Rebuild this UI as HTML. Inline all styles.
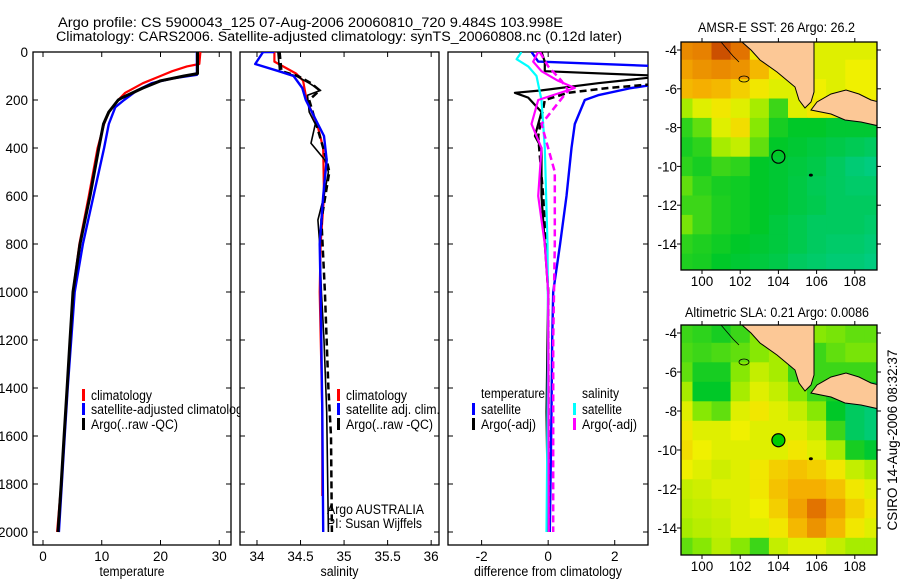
<!DOCTYPE html>
<html><head><meta charset="utf-8"><style>
html,body{margin:0;padding:0;background:#fff;}
svg{display:block;font-family:"Liberation Sans",sans-serif;}
text{font-size:13.5px;fill:#000;}
</style></head><body>
<svg id="fig" width="900" height="580" viewBox="0 0 900 580" xmlns="http://www.w3.org/2000/svg">
<text x="58" y="27" textLength="505" lengthAdjust="spacingAndGlyphs">Argo profile: CS 5900043_125 07-Aug-2006 20060810_720 9.484S 103.998E</text>
<text x="56" y="41" textLength="566" lengthAdjust="spacingAndGlyphs">Climatology: CARS2006. Satellite-adjusted climatology: synTS_20060808.nc (0.12d later)</text>
<text x="698" y="32" textLength="157" lengthAdjust="spacingAndGlyphs">AMSR-E SST: 26 Argo: 26.2</text>
<text x="685" y="317" textLength="184" lengthAdjust="spacingAndGlyphs">Altimetric SLA: 0.21 Argo: 0.0086</text>
<text transform="translate(897,440) rotate(-90)" text-anchor="middle">CSIRO 14-Aug-2006 08:32:37</text>
<g id="g-p1"></g>
<g id="g-p2"></g>
<g id="g-p3"></g>
<g id="g-m1"></g>
<g id="g-m2"></g>
</svg>
<script>
// ---- profile data: [depth, value] ----
const tempClim = [[0,26.8],[50,26.6],[60,24.5],[80,22],[100,20],[130,17],[170,14],[200,12.8],[250,11.2],[300,10.4],[400,9.3],[600,7.8],[800,6.2],[1000,5.1],[1200,4.6],[1400,4.1],[1600,3.6],[1800,3.1],[2000,2.4]];
const tempSat = [[0,26.2],[95,26.2],[110,22],[130,18.5],[160,16],[200,13.8],[230,12.3],[300,11.2],[400,10.4],[600,8.6],[800,6.8],[1000,5.4],[1200,4.8],[1400,4.2],[1600,3.7],[1800,3.2],[2000,2.7]];
const tempArgo = [[0,26.3],[90,26.3],[100,24],[120,20],[150,17],[190,13.5],[200,12.8],[250,11.2],[300,10.3],[400,9.5],[600,8.0],[800,6.3],[1000,5.1],[1200,4.6],[1400,4.1],[1600,3.6],[1800,3.1],[2000,2.55]];
const salClim = [[0,34.2],[40,34.2],[60,34.3],[90,34.45],[120,34.53],[200,34.57],[300,34.69],[400,34.76],[600,34.77],[800,34.73],[1000,34.72],[1500,34.75],[1850,34.75]];
const salSat = [[0,34.2],[0,34.07],[50,33.98],[80,34.25],[100,34.42],[150,34.52],[200,34.56],[300,34.7],[350,34.77],[450,34.8],[600,34.76],[800,34.72],[1000,34.73],[1500,34.75],[2000,34.76]];
const salArgo = [[0,34.24],[80,34.26],[100,34.45],[130,34.6],[160,34.73],[180,34.58],[250,34.6],[300,34.67],[380,34.62],[450,34.78],[500,34.82],[600,34.77],[700,34.7],[800,34.72],[1000,34.74],[1200,34.77],[1500,34.8],[2000,34.82]];
const salArgoAdj = [[0,34.26],[80,34.28],[100,34.47],[130,34.62],[160,34.72],[200,34.6],[300,34.68],[450,34.8],[500,34.83],[700,34.74],[1000,34.78],[1400,34.82],[1600,34.85],[2000,34.86]];
const dTempSat = [[0,-0.5],[40,-0.3],[60,3.5],[130,3.5],[150,2.5],[180,1.5],[200,1.1],[300,0.8],[400,0.7],[600,0.55],[800,0.36],[1000,0.15],[1200,0.12],[1500,0.1],[2000,0.05]];
const dTempArgo = [[0,-0.2],[40,-0.1],[80,-0.1],[100,3.5],[130,1.5],[160,-0.2],[170,-1.0],[190,-0.6],[250,-0.2],[350,-0.4],[400,-0.2],[600,-0.2],[800,-0.1],[1000,0],[1500,-0.05],[2000,0]];
const dTempArgoAdj = [[90,3.5],[130,3.5],[150,1.8],[170,0.6],[200,-0.1],[350,-0.3],[600,-0.15],[1000,0],[2000,0.02]];
const dSalSat = [[0,-0.8],[30,-0.95],[60,-0.6],[100,-0.35],[200,-0.2],[400,-0.1],[800,-0.02],[1200,0],[2000,-0.05]];
const dSalArgo = [[0,-0.3],[40,-0.45],[80,-0.2],[120,0.3],[150,0.8],[200,-0.3],[300,-0.5],[400,-0.2],[600,-0.3],[800,-0.1],[1000,0],[2000,0.02]];
const dSalArgoAdj = [[0,-0.25],[60,0],[120,0.4],[160,0.6],[300,-0.2],[500,0.2],[800,0.2],[1200,0.15],[1600,0.15],[2000,0.15]];
const depthTicks = [0,200,400,600,800,1000,1200,1400,1600,1800,2000];
const tempTicks = [0,10,20,30];
const salTicks = [34,34.5,35,35.5,36];
const diffTicks = [-2,0,2];
// ---- map data (1-degree cells, rows from -4 to -15, cols lon 99..108) ----
const mapLons = [99,100,101,102,103,104,105,106,107,108,109];
const mapLats = [-4,-5,-6,-7,-8,-9,-10,-11,-12,-13,-14,-15];
const sstGrid = [
[.80,.82,.92,.85,.60,.60,.55,.55,.55,.55,.55],
[.75,.78,.80,.78,.70,.60,.55,.55,.55,.58,.58],
[.70,.72,.70,.65,.60,.55,.55,.58,.55,.58,.58],
[.45,.55,.60,.55,.45,.30,.55,.60,.60,.60,.60],
[.28,.35,.55,.62,.40,.25,.22,.22,.20,.20,.20],
[.25,.28,.45,.50,.35,.22,.20,.18,.16,.14,.12],
[.28,.25,.30,.28,.22,.20,.18,.16,.12,.08,.06],
[.35,.28,.25,.24,.22,.20,.17,.14,.12,.10,.10],
[.30,.30,.26,.24,.22,.20,.17,.15,.12,.12,.12],
[.38,.30,.26,.24,.22,.18,.15,.12,.12,.12,.10],
[.28,.26,.24,.22,.20,.18,.15,.12,.10,.10,.08],
[.26,.25,.22,.20,.18,.16,.12,.10,.08,.08,.06]];
const slaGrid = [
[.30,.28,.25,.30,.40,.40,.40,.40,.38,.35,.35],
[.32,.30,.32,.35,.40,.45,.35,.30,.35,.38,.38],
[.35,.25,.25,.40,.50,.45,.30,.30,.30,.30,.30],
[.45,.22,.22,.45,.55,.50,.40,.30,.25,.25,.20],
[.55,.40,.35,.55,.60,.55,.50,.40,.22,.12,.08],
[.60,.55,.55,.58,.55,.55,.55,.50,.30,.12,.08],
[.62,.58,.55,.55,.55,.55,.60,.55,.45,.25,.20],
[.58,.55,.52,.55,.60,.65,.68,.65,.60,.50,.45],
[.50,.52,.55,.55,.60,.68,.72,.72,.68,.60,.55],
[.48,.50,.52,.55,.58,.65,.75,.85,.75,.65,.60],
[.45,.48,.50,.55,.55,.60,.70,.78,.70,.60,.55],
[.35,.40,.48,.40,.30,.50,.55,.55,.50,.45,.45]];
const latTicks = [-4,-6,-8,-10,-12,-14];
const lonTicks = [100,102,104,106,108];
const floatPos = [104.0,-9.5];

const NS="http://www.w3.org/2000/svg";
function mk(parent,tag,attrs){const e=document.createElementNS(NS,tag);for(const k in attrs)e.setAttribute(k,attrs[k]);parent.appendChild(e);return e;}
const Y0=52, YS=0.24, PB=545;
const yD = d => Y0 + d*YS;

function panel(gid,x0,x1,xv0,xv1,ticks,label,labW){
  const g=document.getElementById(gid);
  const xs = v => x0 + (v-xv0)/(xv1-xv0)*(x1-x0);
  const bg=mk(g,'rect',{x:x0,y:Y0,width:x1-x0,height:PB-Y0,fill:'#fff',stroke:'none'});
  const r=mk(g,'rect',{x:x0,y:Y0,width:x1-x0,height:PB-Y0,fill:'none',stroke:'#000','stroke-width':1.3});
  
  
  ticks.forEach(t=>{
    const X=xs(t);
    mk(g,'line',{x1:X,x2:X,y1:PB,y2:PB-5,stroke:'#000'});
    mk(g,'line',{x1:X,x2:X,y1:Y0,y2:Y0+5,stroke:'#000'});
    const tx=mk(g,'text',{x:X,y:561,'text-anchor':'middle'});
    tx.textContent=t;
    
    
  });
  depthTicks.forEach(d=>{
    const Y=yD(d);
    mk(g,'line',{x1:x0,x2:x0+5,y1:Y,y2:Y,stroke:'#000'});
    mk(g,'line',{x1:x1,x2:x1-5,y1:Y,y2:Y,stroke:'#000'});
    if(gid==='g-p1'){
      const tx=mk(g,'text',{x:28,y:Y+5,'text-anchor':'end'});
      tx.textContent=d;
      
      
    }
  });
  const cx=(x0+x1)/2;
  const lb=mk(g,'text',{x:cx-labW/2,y:576,textLength:labW,lengthAdjust:'spacingAndGlyphs'});
  lb.textContent=label;
  
  
  const cp=mk(g,'clipPath',{id:'c'+gid});
  mk(cp,'rect',{x:x0,y:Y0,width:x1-x0,height:PB-Y0});
  return {g,xs,clip:'url(#c'+gid+')'};
}
function series(P,data,color,w,dash,name){
  const pts=data.map(p=>P.xs(p[1]).toFixed(1)+','+yD(p[0]).toFixed(1)).join(' ');
  const a={points:pts,fill:'none',stroke:color,'stroke-width':w,'clip-path':P.clip,'stroke-linejoin':'round'};
  if(dash)a['stroke-dasharray']=dash;
  const e=mk(P.g,'polyline',a);
  
  
}
function legend(g,x,y,color,s,w,name){
  mk(g,'rect',{x:x-1,y:y-9,width:3,height:12,fill:color});
  const t=mk(g,'text',{x:x+8,y:y+2,textLength:w,lengthAdjust:'spacingAndGlyphs'});
  t.textContent=s;
  
  
}
function txt(g,x,y,s,w,name){const t=mk(g,'text',{x:x,y:y,textLength:w,lengthAdjust:'spacingAndGlyphs'});t.textContent=s;
  
  }

const P1=panel('g-p1',33,231,-1.7,32.0,tempTicks,'temperature',65);
series(P1,tempClim,'#f00',2.2,null,'temp-climatology-line');
series(P1,tempSat,'#00f',2.4,null,'temp-satellite-line');
series(P1,tempArgo,'#000',3,null,'temp-argo-line');
legend(P1.g,83,398,'#f00','climatology',61,'legend-climatology');
legend(P1.g,83,412,'#00f','satellite-adjusted climatology',158,'legend-satellite');
legend(P1.g,83,427,'#000','Argo(..raw -QC)',87,'legend-argo');

const P2=panel('g-p2',240,439,33.805,36.09,salTicks,'salinity',38);
series(P2,salClim,'#f00',2.2,null,'sal-climatology-line');
series(P2,salArgoAdj,'#000',2.5,'7,4','sal-argo-adj-line');
series(P2,salArgo,'#000',1.6,null,'sal-argo-line');
series(P2,salSat,'#00f',2.4,null,'sal-satellite-line');
legend(P2.g,338,398,'#f00','climatology',61,'legend-climatology');
legend(P2.g,338,412,'#00f','satellite adj. clim.',94,'legend-satellite');
legend(P2.g,338,427,'#000','Argo(..raw -QC)',87,'legend-argo');
txt(P2.g,327,514,'Argo AUSTRALIA',97,'argo-agency-note');
txt(P2.g,327,528,'PI: Susan Wijffels',95,'pi-note');

const P3=panel('g-p3',448,648,-3.01,3.0,diffTicks,'difference from climatology',148);
series(P3,dTempSat,'#00f',2.4,null,'diff-temp-satellite-line');
series(P3,dTempArgoAdj,'#000',2.5,'7,4','diff-temp-argo-adj-line');
series(P3,dTempArgo,'#000',2.2,null,'diff-temp-argo-line');
series(P3,dSalSat,'#0ff',2.2,null,'diff-sal-satellite-line');
series(P3,dSalArgoAdj,'#f0f',2.5,'7,4','diff-sal-argo-adj-line');
series(P3,dSalArgo,'#f0f',2.2,null,'diff-sal-argo-line');
txt(P3.g,481,398,'temperature',64,'legend-temperature-header');
legend(P3.g,473,412,'#00f','satellite',40,'legend-temp-satellite');
legend(P3.g,473,427,'#000','Argo(-adj)',55,'legend-temp-argo');
txt(P3.g,582,398,'salinity',37,'legend-salinity-header');
legend(P3.g,574,412,'#0ff','satellite',40,'legend-sal-satellite');
legend(P3.g,574,427,'#f0f','Argo(-adj)',55,'legend-sal-argo');

// colormap
const cstops=[[0,[0,205,160]],[0.22,[0,200,40]],[0.42,[150,235,0]],[0.58,[240,240,0]],[0.72,[245,175,0]],[0.86,[225,110,0]],[1,[175,40,0]]];
function cmap(v){for(let i=1;i<cstops.length;i++){if(v<=cstops[i][0]){const a=cstops[i-1],b=cstops[i],t=(v-a[0])/(b[0]-a[0]);return 'rgb('+a[1].map((c,k)=>Math.round(c+(b[1][k]-c)*t)).join(',')+')';}}return 'rgb(175,40,0)';}

function map(gid,top,bot,latA,latB,grid,filled){
  const g=document.getElementById(gid);
  const L=681,R=877;
  const xs=lon=>702+(lon-100)*19.1;
  const ys=lat=>latA+(-4-lat)*(latB-latA)/10;
  const cp=mk(g,'clipPath',{id:'c'+gid});
  mk(cp,'rect',{x:L,y:top,width:R-L,height:bot-top});
  const cg=mk(g,'g',{'clip-path':'url(#c'+gid+')'});
  const ch=(ys(-1)-ys(0))+0.6;
  grid.forEach((row,i)=>row.forEach((v,j)=>{
    const x=xs(mapLons[j]-0.5),y=ys(mapLats[i]+0.5);
    const c=mk(cg,'rect',{x:x.toFixed(1),y:y.toFixed(1),width:19.7,height:ch.toFixed(1),fill:cmap(v)});
    
    
  }));
  const dy=top;
  const s=[[61,0],[70,8],[79,18],[96,30],[108,40],[114,45],[118,58],[124,66],[130,60],[133,50],[133,0]].map(p=>(L+p[0])+','+(dy+p[1])).join(' ');
  const land1=mk(cg,'polygon',{points:s,fill:'#fcc896',stroke:'#000','stroke-width':1});
  
  
  const j=[[130,68],[136,60],[150,52],[165,48],[178,52],[190,58],[198,60],[198,84],[180,80],[164,78],[150,72]].map(p=>(L+p[0])+','+(dy+p[1])).join(' ');
  const land2=mk(cg,'polygon',{points:j,fill:'#fcc896',stroke:'#000','stroke-width':1});
  
  
  mk(cg,'polyline',{points:[[40,0],[52,14],[58,20]].map(p=>(L+p[0])+','+(dy+p[1])).join(' '),fill:'none',stroke:'#000','stroke-width':0.8});
  mk(cg,'ellipse',{cx:L+63,cy:dy+37,rx:5,ry:3,fill:'none',stroke:'#000','stroke-width':0.8});
  mk(cg,'ellipse',{cx:xs(105.7),cy:ys(-10.45),rx:2,ry:1.5,fill:'#000'});
  const fp=mk(g,'circle',{cx:xs(floatPos[0]),cy:ys(floatPos[1]),r:6.5,fill:filled?'#0c0':'none',stroke:'#000','stroke-width':1.2});
  
  
  mk(g,'rect',{x:L,y:top,width:R-L,height:bot-top,fill:'none',stroke:'#000','stroke-width':1.3});
  latTicks.forEach(la=>{const Y=ys(la);
    mk(g,'line',{x1:L-4,x2:L,y1:Y,y2:Y,stroke:'#000'});
    mk(g,'line',{x1:R,x2:R+4,y1:Y,y2:Y,stroke:'#000'});
    const t=mk(g,'text',{x:L-4,y:Y+5,'text-anchor':'end'});t.textContent=la;
    
    });
  lonTicks.forEach(lo=>{const X=xs(lo);
    mk(g,'line',{x1:X,x2:X,y1:top-4,y2:top,stroke:'#000'});
    mk(g,'line',{x1:X,x2:X,y1:bot,y2:bot+4,stroke:'#000'});
    const t=mk(g,'text',{x:X,y:bot+16,'text-anchor':'middle'});t.textContent=lo;
    
    });
}
map('g-m1',42,270,50,244,sstGrid,false);
map('g-m2',325,555,333,528,slaGrid,true);
</script>
</body></html>
